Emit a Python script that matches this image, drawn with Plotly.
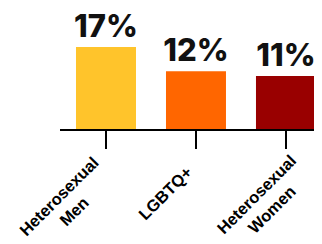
import plotly.graph_objects as go

categories = ["Heterosexual<br>Men", "LGBTQ+", "Heterosexual<br>Women"]
values = [17, 12, 11]

bar_colors = ["#FFC42B", "#FF6600", "#990000"]
label_shifts = [(-40, -74), (-31, -63.5), (-22, -72.5)]

fig = go.Figure(
    go.Bar(
        x=categories,
        y=values,
        marker=dict(color=bar_colors, line=dict(width=0)),
        width=2 / 3,
        text=[f"{v}%" for v in values],
        textposition="outside",
        textfont=dict(family="Inter", size=31, color="#111111", weight=800),
        constraintext="none",
        cliponaxis=False,
        hoverinfo="skip",
    )
)

for cat, (dx, dy) in zip(categories, label_shifts):
    fig.add_annotation(
        x=cat, xref="x", y=0, yref="paper",
        text=cat, showarrow=False, textangle=-45, align="center",
        xanchor="center", yanchor="middle", xshift=dx, yshift=dy,
        font=dict(family="Liberation Sans", size=16.5, color="#000000", weight="bold"),
    )

fig.update_layout(
    width=314, height=236,
    margin=dict(l=52, r=2, t=2, b=115),
    paper_bgcolor="white", plot_bgcolor="white",
    showlegend=False,
    xaxis=dict(
        range=[-0.511, 2.378], showticklabels=False, showgrid=False, zeroline=False,
        showline=True, linecolor="#000000", linewidth=2,
        ticks="outside", ticklen=18, tickwidth=2, tickcolor="#000000",
        fixedrange=True,
    ),
    yaxis=dict(range=[0, 24.7], visible=False, fixedrange=True),
)

fig.write_html("out.html", config={"displayModeBar": False})
